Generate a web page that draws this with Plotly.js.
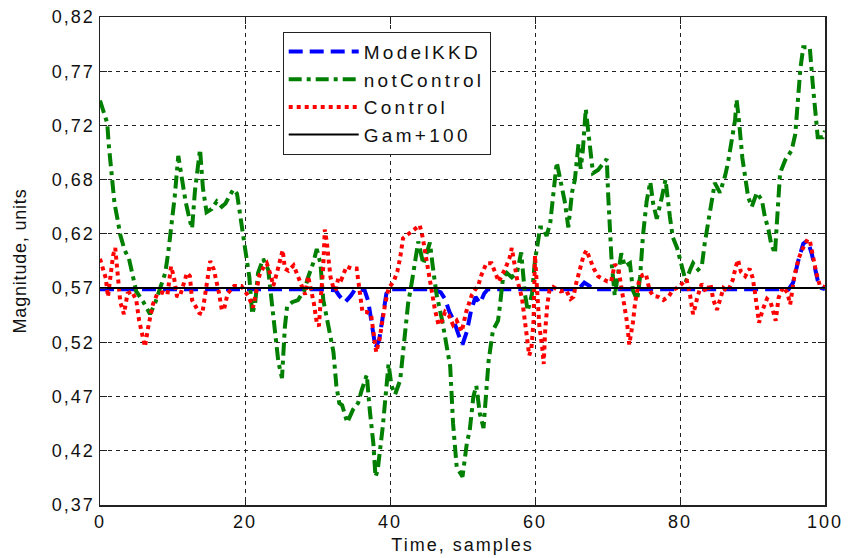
<!DOCTYPE html>
<html>
<head>
<meta charset="utf-8">
<script src="https://cdn.plot.ly/plotly-3.0.1.min.js"></script>
<style>
html,body{margin:0;padding:0;background:#fff;}
#chart{width:848px;height:558px;}
.xtick text, .ytick text { letter-spacing: 2px; }
.legendtext { letter-spacing: 3.3px; }
.g-xtitle text { letter-spacing: 2px; }
.g-ytitle text { letter-spacing: 0.8px; }
</style>
</head>
<body>
<div id="chart"></div>
<script>
// ModelKKD (blue dashed)
const modelX = [0,5,10,15,20,25,30,32.5,33,33.8,34.6,35.2,36.5,37,37.5,38,38.5,39,39.5,40,46,47,47.6,48.2,48.8,49.4,50,50.6,51.2,51.8,52.4,53,53.5,66,66.8,67.5,68,95,95.6,96.3,97,97.6,98.2,98.6,99,99.5,100];
const modelY = [0.569,0.569,0.569,0.569,0.569,0.569,0.569,0.568,0.563,0.557,0.563,0.569,0.568,0.558,0.535,0.515,0.522,0.545,0.565,0.569,0.569,0.566,0.560,0.548,0.540,0.528,0.518,0.530,0.550,0.562,0.556,0.565,0.569,0.569,0.575,0.572,0.569,0.569,0.575,0.595,0.611,0.614,0.601,0.589,0.577,0.570,0.569];

// notControl (green dash-dot)
const notCtrlX = [0,0.4,1,1.2,1.6,2,2.4,2.8,3.4,4,4.5,5,6,6.9,7.6,8.3,9,9.4,9.9,10.3,10.8,11.3,11.8,12.4,12.7,13.1,13.8,14.2,14.7,15.4,16.1,16.8,17.3,17.7,18.4,18.9,19.3,19.7,20.3,20.6,21,21.4,21.8,22.5,23.2,23.7,24.1,24.6,25.1,25.3,25.5,25.8,26.5,27.3,28.2,28.7,29.4,29.9,30.4,30.8,31.3,31.7,32.2,32.6,33,33.4,34.1,34.9,35.6,36.1,36.8,37.2,37.7,38,38.3,39,39.3,39.8,40.2,40.7,41.4,41.8,42.1,42.5,43,43.4,43.9,44.6,45.5,45.9,46.4,47.2,48.3,48.7,49.2,50,50.6,51,51.5,51.9,52.4,52.9,53.4,53.6,54.2,54.9,55.2,55.6,56.1,56.8,57.5,58.1,58.6,59,59.6,60,60.4,60.7,61.1,61.6,62.1,62.5,63,63.7,64.1,64.6,65.1,65.5,66,66.3,66.6,67,67.6,68,68.7,69.4,69.9,70.1,70.3,70.6,71,71.9,72.4,73.1,73.5,74.1,74.5,74.7,74.9,75.4,75.9,76.3,76.8,77.5,78,78.6,79,79.6,80.3,80.8,81.4,81.8,82.5,83,83.4,83.9,84.4,84.8,85.5,86.2,86.6,87.2,87.6,87.8,88.1,88.6,89,89.4,89.9,90.6,91.3,91.7,92.2,92.6,93.1,93.3,93.5,93.8,94.5,95.4,95.9,96.3,96.6,97,97.9,98.3,98.6,99,99.7,100];
const notCtrlY = [0.743,0.735,0.722,0.703,0.672,0.648,0.634,0.619,0.605,0.597,0.582,0.567,0.557,0.546,0.556,0.571,0.584,0.602,0.630,0.654,0.692,0.668,0.650,0.632,0.625,0.660,0.698,0.662,0.640,0.643,0.650,0.645,0.648,0.653,0.661,0.657,0.640,0.620,0.597,0.580,0.546,0.556,0.584,0.597,0.587,0.557,0.526,0.502,0.487,0.516,0.534,0.553,0.557,0.559,0.568,0.580,0.593,0.606,0.593,0.559,0.543,0.531,0.511,0.480,0.464,0.462,0.446,0.458,0.464,0.476,0.490,0.458,0.427,0.396,0.402,0.442,0.464,0.500,0.480,0.472,0.485,0.510,0.525,0.556,0.575,0.593,0.613,0.592,0.612,0.590,0.565,0.540,0.498,0.445,0.405,0.396,0.427,0.439,0.470,0.480,0.454,0.441,0.479,0.503,0.531,0.540,0.556,0.580,0.584,0.580,0.584,0.603,0.565,0.549,0.565,0.596,0.612,0.626,0.626,0.618,0.630,0.658,0.686,0.663,0.650,0.626,0.658,0.670,0.703,0.680,0.697,0.735,0.695,0.676,0.679,0.685,0.689,0.655,0.627,0.591,0.563,0.602,0.590,0.593,0.568,0.559,0.581,0.599,0.619,0.650,0.668,0.648,0.634,0.654,0.670,0.636,0.617,0.607,0.590,0.576,0.587,0.593,0.587,0.590,0.611,0.633,0.654,0.667,0.658,0.673,0.685,0.710,0.725,0.744,0.727,0.690,0.672,0.654,0.645,0.658,0.651,0.636,0.624,0.610,0.602,0.626,0.648,0.676,0.688,0.697,0.712,0.745,0.772,0.792,0.792,0.759,0.734,0.709,0.709,0.715];

// Control (red dotted)
const ctrlX = [0,0.4,0.8,1.1,1.5,1.8,2.1,2.4,2.8,3.3,3.8,4.4,5.0,5.4,5.8,6.2,6.7,7.3,7.9,8.6,9.3,9.8,10.2,10.6,11.0,11.5,12.0,12.4,12.7,13.2,13.7,14.1,14.5,14.9,15.2,15.7,16.1,16.4,16.8,17.1,17.6,18.5,19.5,20.5,21.1,21.6,22.0,22.6,23.0,23.6,23.9,24.4,24.8,25.2,25.5,26.0,26.7,27.1,27.8,28.3,28.7,29.1,29.5,29.9,30.2,30.5,30.8,31.0,31.3,31.5,31.8,32.2,32.5,32.9,33.3,34.0,34.7,35.4,35.9,36.2,36.8,37.4,37.8,38.1,38.5,38.9,39.3,39.8,40.5,41.0,41.4,41.8,43.0,44.1,44.5,44.9,45.3,45.8,46.2,46.7,47.2,47.6,48.1,48.7,49.2,49.9,50.5,51.3,52.2,52.6,53.3,54.0,54.5,55.0,55.9,56.5,56.8,57.2,57.5,58.2,58.5,58.9,59.2,59.5,59.8,60.0,60.3,60.6,61.0,61.2,61.4,61.7,62.0,62.5,63.5,64.3,64.9,65.3,65.7,66.2,66.7,67.1,67.6,68.1,68.7,69.3,70.0,70.5,71.0,71.5,71.9,72.3,72.7,73.0,73.5,73.8,74.3,74.8,75.3,75.8,76.3,77.0,77.7,78.4,79.0,79.8,80.5,80.9,81.4,81.8,82.1,82.4,83.0,83.6,84.2,84.6,85.1,85.6,86.0,86.6,87.3,87.7,88.0,88.4,89.0,89.6,90.0,90.3,90.6,90.9,91.4,92.0,92.5,92.9,93.2,93.6,94.2,94.8,95.2,95.8,96.4,96.9,97.6,97.9,98.4,98.8,99.3,100];
const ctrlY = [0.597,0.588,0.579,0.562,0.585,0.600,0.607,0.584,0.557,0.546,0.565,0.567,0.559,0.540,0.527,0.516,0.536,0.555,0.565,0.566,0.564,0.590,0.580,0.563,0.562,0.573,0.584,0.581,0.559,0.553,0.547,0.546,0.565,0.585,0.595,0.587,0.577,0.566,0.550,0.550,0.565,0.572,0.572,0.562,0.552,0.569,0.582,0.590,0.593,0.581,0.572,0.584,0.596,0.605,0.588,0.586,0.591,0.584,0.571,0.564,0.581,0.570,0.556,0.538,0.535,0.565,0.590,0.624,0.612,0.598,0.580,0.570,0.568,0.580,0.578,0.590,0.588,0.588,0.560,0.548,0.548,0.545,0.525,0.511,0.521,0.539,0.554,0.570,0.576,0.585,0.598,0.616,0.622,0.628,0.617,0.600,0.585,0.567,0.550,0.536,0.540,0.548,0.545,0.536,0.540,0.530,0.548,0.564,0.573,0.582,0.593,0.593,0.584,0.576,0.588,0.598,0.607,0.588,0.579,0.561,0.543,0.522,0.508,0.514,0.540,0.600,0.570,0.535,0.515,0.500,0.530,0.555,0.568,0.571,0.567,0.568,0.560,0.562,0.575,0.588,0.600,0.605,0.597,0.588,0.581,0.579,0.576,0.576,0.592,0.588,0.570,0.554,0.538,0.518,0.538,0.556,0.575,0.582,0.583,0.568,0.563,0.562,0.559,0.562,0.568,0.571,0.576,0.578,0.563,0.546,0.553,0.562,0.574,0.566,0.574,0.559,0.550,0.562,0.570,0.567,0.578,0.590,0.596,0.585,0.581,0.588,0.580,0.568,0.555,0.538,0.550,0.560,0.557,0.546,0.540,0.561,0.571,0.566,0.555,0.582,0.598,0.606,0.615,0.614,0.597,0.584,0.572,0.571];

// Gam+100 (black solid)
const gamX = [0, 100];
const gamY = [0.57, 0.57];

// Axis ticks
const yTickVals = [0.37,0.42,0.47,0.52,0.57,0.62,0.67,0.72,0.77,0.82];
const yTickText = ['0,37','0,42','0,47','0,52','0,57','0,62','0,68','0,72','0,77','0,82'];
const xTickVals = [0,20,40,60,80,100];

const font = 'Liberation Sans, Arial, Helvetica, sans-serif';

const traces = [
  {x: modelX, y: modelY, name: 'ModelKKD', mode: 'lines', line: {color: '#0000ff', width: 4, dash: '14px,7px'}},
  {x: notCtrlX, y: notCtrlY, name: 'notControl', mode: 'lines', line: {color: '#007f00', width: 4, dash: '13px,5px,4px,5px'}},
  {x: ctrlX, y: ctrlY, name: 'Control', mode: 'lines', line: {color: '#ff0000', width: 4, dash: '4px,4px'}},
  {x: gamX, y: gamY, name: 'Gam+100', mode: 'lines', line: {color: '#000000', width: 2}}
];

const axisCommon = {
  showline: true, linecolor: '#222', linewidth: 1.5, mirror: 'ticks',
  ticks: 'inside', ticklen: 7, tickcolor: '#222', tickwidth: 1,
  showgrid: true, gridcolor: '#222', gridwidth: 1, griddash: '4px,4px',
  zeroline: false, tickfont: {family: font, size: 18, color: '#111'}
};

const layout = {
  width: 848, height: 558,
  paper_bgcolor: '#fff', plot_bgcolor: '#fff',
  margin: {l: 100, r: 23, t: 17, b: 53},
  showlegend: true,
  legend: {x: 0.252, y: 0.970, xanchor: 'left', yanchor: 'top', bgcolor: '#fff', bordercolor: '#222', borderwidth: 1,
           font: {family: font, size: 19, color: '#111'}, itemwidth: 70, tracegroupgap: 0},
  xaxis: Object.assign({}, axisCommon, {range: [0, 100], tickvals: xTickVals, ticktext: xTickVals.map(String),
           title: {text: 'Time, samples', font: {family: font, size: 18, color: '#111'}, standoff: 7}}),
  yaxis: Object.assign({}, axisCommon, {range: [0.37, 0.82], tickvals: yTickVals, ticktext: yTickText,
           title: {text: 'Magnitude, units', font: {family: font, size: 18, color: '#111'}, standoff: 20}})
};

Plotly.newPlot('chart', traces, layout, {staticPlot: true, displayModeBar: false});
</script>
</body>
</html>
